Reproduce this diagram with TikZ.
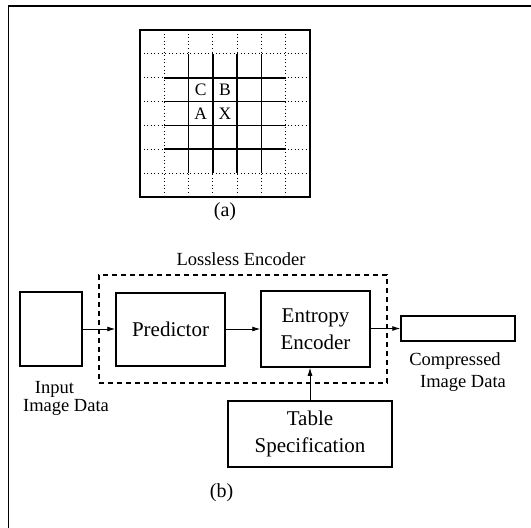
\documentclass[tikz,border=0pt]{standalone}
\usepackage{fontspec}
\setmainfont{Liberation Serif}
\usetikzlibrary{arrows.meta}
\begin{document}
\begin{tikzpicture}[x=1pt,y=-1pt,
  blk/.style={draw, line width=1.5pt, inner sep=0pt, font=\fontsize{21}{27}\selectfont, align=center},
  lab/.style={font=\fontsize{18.5}{20}\selectfont, inner sep=0pt},
  cell/.style={font=\fontsize{17.5}{18}\selectfont, inner sep=0pt},
  arr/.style={line width=0.9pt, -{Latex[length=8pt,width=5pt]}},
  dotl/.style={line width=0.9pt, dash pattern=on 1pt off 2.6pt},
  solidl/.style={line width=1.6pt},
  encbox/.style={draw, line width=1.1pt, dash pattern=on 5pt off 4pt, inner sep=0pt}
]
\useasboundingbox (0,0) rectangle (531,528);
% outer frame (cropped)
\draw[line width=1.3pt] (8.5,528) -- (8.5,6) -- (531,6);
% grid (a)
\foreach \i in {1,...,6} {
  \draw[dotl] ({140+\i*170/7},30) -- ({140+\i*170/7},197);
  \draw[dotl] (140,{30+\i*167/7}) -- (310,{30+\i*167/7});
}
\foreach \i in {2,...,5} {
  \draw[solidl] ({140+\i*170/7},{30+167/7}) -- ({140+\i*170/7},{30+6*167/7});
  \draw[solidl] ({140+170/7},{30+\i*167/7}) -- ({140+6*170/7},{30+\i*167/7});
}
\draw[line width=1.3pt] (140,30) rectangle (310,197);
\node[cell] (cC) at ({140+2.5*170/7},{30+2.5*167/7}) {C};
\node[cell] (cB) at ({140+3.5*170/7},{30+2.5*167/7}) {B};
\node[cell] (cA) at ({140+2.5*170/7},{30+3.5*167/7}) {A};
\node[cell] (cX) at ({140+3.5*170/7},{30+3.5*167/7}) {X};
\node[lab, font=\fontsize{20}{22}\selectfont] (capa) at (225,212) {(a)};
% diagram (b)
\node[encbox, minimum width=288pt, minimum height=108pt] (enc) at (243,329) {};
\node[lab] (enclab) at (241,259) {Lossless Encoder};
\node[blk, minimum width=62pt, minimum height=74pt] (in) at (51,329) {};
\node[blk, minimum width=109pt, minimum height=73pt] (pred) at (170.5,329.5) {Predictor};
\node[blk, minimum width=109pt, minimum height=76pt] (ent) at (315.5,329) {Entropy\\Encoder};
\node[blk, minimum width=114pt, minimum height=25pt] (comp) at (458,328.5) {};
\node[blk, minimum width=164pt, minimum height=66pt] (tab) at (310,434) {Table\\Specification};
\node[lab] (inl1) at (54.5,389) {Input};
\node[lab] (inl2) at (66,407) {Image Data};
\node[lab] (cl1) at (455,361) {Compressed};
\node[lab] (cl2) at (463,383) {Image Data};
\node[lab, font=\fontsize{20}{22}\selectfont] (capb) at (221.5,493) {(b)};
\draw[arr] (in.east |- 0,329) -- (pred.west |- 0,329);
\draw[arr] (pred.east |- 0,329) -- (ent.west |- 0,329);
\draw[arr] (ent.east |- comp.west) -- (comp.west);
\draw[arr] (tab.north) -- (tab.north |- ent.south);
\end{tikzpicture}
\end{document}
